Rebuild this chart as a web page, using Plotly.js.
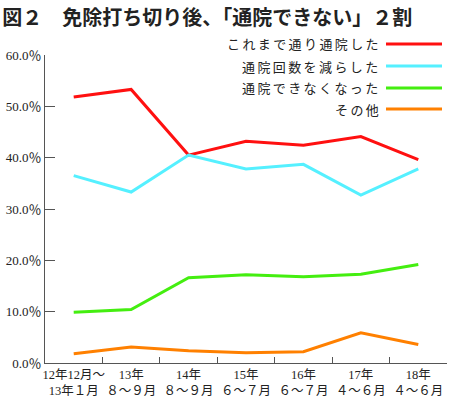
<!DOCTYPE html>
<html><head><meta charset="utf-8">
<script src="https://cdn.plot.ly/plotly-3.0.1.min.js"></script>
<style>
html,body{margin:0;padding:0;background:#fff;}
#chart{width:450px;height:397px;}
.annotation-text{letter-spacing:2.4px;}
</style>
</head><body><div id="chart"></div>
<script>
const categories = ["12年12月～<br>13年１月","13年<br>８～９月","14年<br>８～９月","15年<br>６～７月","16年<br>６～７月","17年<br>４～６月","18年<br>４～６月"];
const seriesNames = ["これまで通り通院した","通院回数を減らした","通院できなくなった","その他"];
const keepGoing = [51.8, 53.3, 40.5, 43.2, 42.4, 44.1, 39.6];
const reduced = [36.5, 33.3, 40.5, 37.8, 38.7, 32.7, 37.8];
const cannotGo = [9.9, 10.4, 16.6, 17.2, 16.8, 17.3, 19.2];
const other = [1.8, 3.1, 2.4, 2.0, 2.2, 5.9, 3.6];
const colors = ["#ff1010","#55f0ff","#44ee10","#ff8000"];
const values = [keepGoing, reduced, cannotGo, other];

const traces = values.map((v,i)=>({
  type:"scatter", mode:"lines", x:categories, y:v, name:seriesNames[i],
  line:{color:colors[i], width:3}, hoverinfo:"skip", showlegend:false
}));

const legendY = [44, 66, 88, 109];
const annotations = seriesNames.map((n,i)=>({
  xref:"paper", yref:"paper", x:(383-45)/402, y:1-(legendY[i]-55)/308,
  xanchor:"right", yanchor:"middle", showarrow:false, text:n,
  font:{family:"Noto Sans CJK JP", size:13, color:"#222"}
}));
const shapes = seriesNames.map((n,i)=>({
  type:"line", xref:"paper", yref:"paper",
  x0:(386-45)/402, x1:(442-45)/402, y0:1-(legendY[i]-55)/308, y1:1-(legendY[i]-55)/308,
  line:{color:colors[i], width:3}
}));

const layout = {
  width:450, height:397,
  margin:{l:45, r:3, t:55, b:34},
  paper_bgcolor:"#fff", plot_bgcolor:"#fff",
  title:{text:"図２　免除打ち切り後、「通院できない」２割", x:0.005, xanchor:"left", y:0.955, yanchor:"middle",
    font:{family:"Noto Sans CJK JP", size:20, color:"#222", weight:"bold"}},
  xaxis:{type:"category", range:[-0.5,6.5], tickson:"boundaries", ticks:"inside", ticklen:6, tickcolor:"#555",
    tickangle:0, automargin:false,
    showline:true, linecolor:"#555", linewidth:1, showgrid:false, zeroline:false, fixedrange:true,
    tickfont:{family:"Liberation Serif, Noto Sans CJK JP", size:12.5, color:"#222"}},
  yaxis:{range:[0,60], dtick:10, tickformat:".1f", ticksuffix:"％", ticks:"inside", ticklen:10, tickcolor:"#555",
    automargin:false,
    showline:true, linecolor:"#555", linewidth:1, showgrid:false, zeroline:false, fixedrange:true,
    tickfont:{family:"Liberation Serif, Noto Sans CJK JP", size:13, color:"#222"}},
  annotations:annotations, shapes:shapes, showlegend:false
};
Plotly.newPlot("chart", traces, layout, {displayModeBar:false, staticPlot:true});
</script></body></html>
